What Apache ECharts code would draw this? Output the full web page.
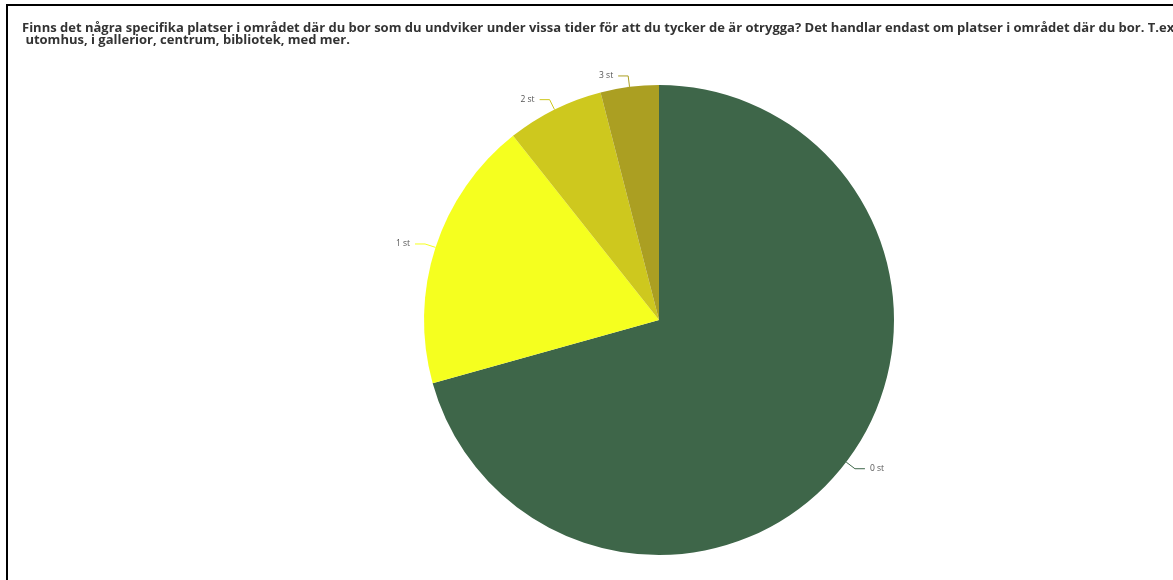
<!DOCTYPE html>
<html>
<head>
<meta charset="utf-8">
<script src="https://cdn.jsdelivr.net/npm/echarts@6/dist/echarts.min.js"></script>
<style>
html,body{margin:0;padding:0;background:#fff;overflow:hidden;}
#frame{position:absolute;left:6px;top:4px;width:1200px;height:620px;border-left:2px solid #000;border-top:2px solid #000;}
#chart{position:absolute;left:0;top:0;width:1173px;height:580px;}
</style>
</head>
<body>
<div id="frame"></div>
<div id="chart"></div>
<script>
const categories = ['0 st', '1 st', '2 st', '3 st'];
const values = [53, 14, 5, 3];
const colors = ['#3E6649', '#F5FF1F', '#CEC81E', '#AB9F22'];
const titleText = 'Finns det några specifika platser i området där du bor som du undviker under vissa tider för att du tycker de är otrygga? Det handlar endast om platser i området där du bor. T.ex\n utomhus, i gallerior, centrum, bibliotek, med mer.';

const chart = echarts.init(document.getElementById('chart'), null, {renderer: 'canvas'});
chart.setOption({
  animation: false,
  title: {
    text: titleText,
    left: 17,
    top: 17,
    textStyle: {
      fontFamily: 'Open Sans',
      fontSize: 13,
      fontWeight: 'bold',
      color: '#333',
      lineHeight: 12
    }
  },
  series: [{
    type: 'pie',
    center: [659, 320],
    radius: [0, 235],
    startAngle: 90,
    clockwise: true,
    data: categories.map((c, i) => ({name: c, value: values[i], itemStyle: {color: colors[i]}})),
    label: {
      show: true,
      formatter: '{b}',
      fontSize: 8.5,
      fontFamily: 'Open Sans',
      color: '#555'
    },
    labelLine: {
      show: true,
      length: 11,
      length2: 10,
      lineStyle: {width: 1}
    },
    emphasis: {disabled: true}
  }]
});
</script>
</body>
</html>
